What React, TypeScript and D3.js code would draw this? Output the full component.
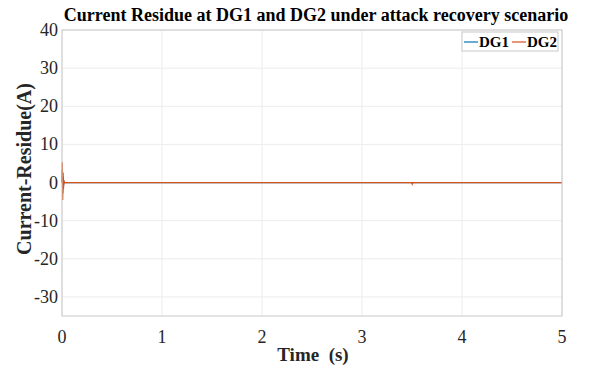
import { useEffect, useRef } from 'react';
import * as d3 from 'd3';

// time (s) and residues (A)
const timeDG1 = [0, 0.004, 0.008, 0.012, 0.016, 0.02, 0.03, 0.05, 1, 2, 3, 3.5, 3.502, 3.51, 4, 5];
const residueDG1 = [0, 3.2, -2.8, 1.5, -0.8, 0.2, 0, 0, 0, 0, 0, 0, -0.2, 0, 0, 0];
const timeDG2 = [0, 0.003, 0.007, 0.011, 0.015, 0.019, 0.025, 0.04, 1, 2, 3, 3.5, 3.503, 3.51, 4, 5];
const residueDG2 = [0, 5.3, -4.6, 2.6, -1.6, 0.6, -0.1, 0, 0, 0, 0, 0, -0.4, 0, 0, 0];

const xTicks = [0, 1, 2, 3, 4, 5];
const yTicks = [-30, -20, -10, 0, 10, 20, 30, 40];
const seriesNames = ['DG1', 'DG2'];
const seriesColors = ['#0072BD', '#D95319'];

const width = 590;
const height = 366;
const margin = { top: 30, right: 28, bottom: 50, left: 62 };

export default function App() {
    const ref = useRef<SVGSVGElement>(null);

    useEffect(() => {
        const svg = d3.select(ref.current);
        svg.selectAll('*').remove();
        const font = '"Liberation Serif", "Times New Roman", serif';

        const x = d3.scaleLinear().domain([0, 5]).range([margin.left, width - margin.right]);
        const y = d3.scaleLinear().domain([-35, 40]).range([height - margin.bottom, margin.top]);

        svg.append('rect').attr('width', width).attr('height', height).attr('fill', '#fff');

        // grid
        const grid = svg.append('g').attr('stroke', '#ececec').attr('stroke-width', 1);
        grid.selectAll('.vx')
            .data(xTicks)
            .join('line')
            .attr('x1', (d) => x(d)).attr('x2', (d) => x(d))
            .attr('y1', margin.top).attr('y2', height - margin.bottom);
        grid.selectAll('.hy')
            .data(yTicks)
            .join('line')
            .attr('x1', margin.left).attr('x2', width - margin.right)
            .attr('y1', (d) => y(d)).attr('y2', (d) => y(d));

        // lines
        const series = [
            { t: timeDG1, v: residueDG1 },
            { t: timeDG2, v: residueDG2 }
        ];
        series.forEach((s, i) => {
            const pts = s.t.map((t, j) => [t, s.v[j]] as [number, number]);
            svg.append('path')
                .datum(pts)
                .attr('fill', 'none')
                .attr('stroke', seriesColors[i])
                .attr('stroke-width', 1.2)
                .attr('d', d3.line().x((d) => x(d[0])).y((d) => y(d[1])));
        });

        // box
        svg.append('rect')
            .attr('x', margin.left).attr('y', margin.top)
            .attr('width', width - margin.left - margin.right)
            .attr('height', height - margin.top - margin.bottom)
            .attr('fill', 'none').attr('stroke', '#c8c8c8');

        // tick labels
        svg.append('g').selectAll('text')
            .data(xTicks)
            .join('text')
            .attr('x', (d) => x(d)).attr('y', height - margin.bottom + 27)
            .attr('text-anchor', 'middle')
            .attr('font-family', font).attr('font-size', 18).attr('fill', '#262626')
            .text((d) => d);
        svg.append('g').selectAll('text')
            .data(yTicks)
            .join('text')
            .attr('x', margin.left - 4).attr('y', (d) => y(d) + 6)
            .attr('text-anchor', 'end')
            .attr('font-family', font).attr('font-size', 18).attr('fill', '#262626')
            .text((d) => d);

        // titles
        svg.append('text')
            .attr('x', 316).attr('y', 21)
            .attr('text-anchor', 'middle')
            .attr('font-family', font).attr('font-size', 18).attr('font-weight', 'bold')
            .text('Current Residue at DG1 and DG2 under attack recovery scenario');
        svg.append('text')
            .attr('x', 313).attr('y', 361)
            .attr('text-anchor', 'middle')
            .attr('font-family', font).attr('font-size', 19).attr('font-weight', 'bold')
            .attr('fill', '#262626')
            .style('white-space', 'pre')
            .text('Time  (s)');
        svg.append('text')
            .attr('transform', `translate(31, 169) rotate(-90)`)
            .attr('text-anchor', 'middle')
            .attr('font-family', font).attr('font-size', 20).attr('font-weight', 'bold')
            .attr('fill', '#262626')
            .text('Current-Residue(A)');

        // legend
        const lg = svg.append('g').attr('transform', `translate(462, 32)`);
        lg.append('rect').attr('width', 96).attr('height', 19)
            .attr('fill', '#fff').attr('stroke', '#c8c8c8');
        seriesNames.forEach((name, i) => {
            const ox = 2 + i * 48;
            lg.append('line')
                .attr('x1', ox).attr('x2', ox + 14).attr('y1', 10).attr('y2', 10)
                .attr('stroke', seriesColors[i]).attr('stroke-width', 1.2);
            lg.append('text')
                .attr('x', ox + 15).attr('y', 15)
                .attr('font-family', font).attr('font-size', 15).attr('font-weight', 'bold')
                .text(name);
        });
    }, []);

    return (
        <svg
            ref={ref}
            width={width}
            height={height}
            style={{ position: 'absolute', left: 0, top: 0, display: 'block' }}
        />
    );
}
